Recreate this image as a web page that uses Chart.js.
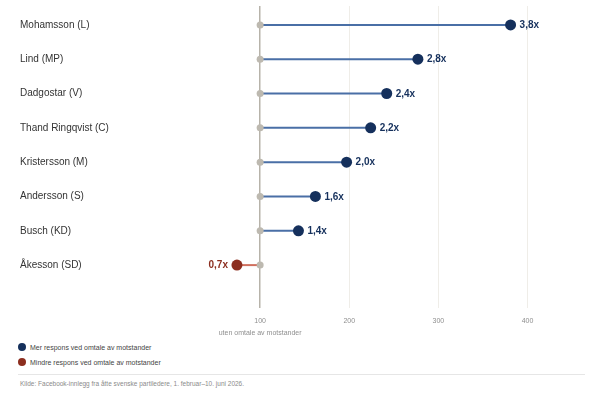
<!DOCTYPE html>
<html>
<head>
<meta charset="utf-8">
<script src="https://cdn.jsdelivr.net/npm/chart.js@4"></script>
<style>
  html, body { margin: 0; padding: 0; background: #fff; }
  body { width: 605px; height: 403px; position: relative; overflow: hidden; font-family: "Liberation Sans", Arial, sans-serif; }
  #wrap { position: absolute; left: 0; top: 0; width: 605px; height: 340px; }
  .leg { position: absolute; left: 18px; font-size: 7px; color: #444; line-height: 10px; }
  .leg i { display: inline-block; width: 8px; height: 8px; border-radius: 50%; vertical-align: middle; margin-right: 4px; position: relative; top: -1px; }
  #rule { position: absolute; left: 18px; width: 567px; top: 374px; height: 0; border-top: 1px solid #e6e6e6; }
  #src { position: absolute; left: 20px; top: 380px; font-size: 6.5px; color: #8a8a8a; }
</style>
</head>
<body>
<div id="wrap"><canvas id="c"></canvas></div>
<div class="leg" style="top:343px"><i style="background:#15305c"></i>Mer respons ved omtale av motstander</div>
<div class="leg" style="top:358px"><i style="background:#8c2e1f"></i>Mindre respons ved omtale av motstander</div>
<div id="rule"></div>
<div id="src">Kilde: Facebook-innlegg fra åtte svenske partiledere, 1. februar–10. juni 2026.</div>
<script>
const names = ["Mohamsson (L)", "Lind (MP)", "Dadgostar (V)", "Thand Ringqvist (C)", "Kristersson (M)", "Andersson (S)", "Busch (KD)", "Åkesson (SD)"];
const values = [381, 277, 242, 224, 197, 162, 143, 74];
const baseline = 100;
const xTicks = [100, 200, 300, 400];
const baselineNote = "uten omtale av motstander";

const NAVY = "#15305c", BLUE_LINE = "#4a6fa6", RED = "#8c2e1f", RED_LINE = "#d0705f", GRAY = "#bdb9b0";
const FONT = "'Liberation Sans', Arial, sans-serif";

const lineSets = names.map((n, i) => ({
  type: 'line',
  data: [{x: baseline, y: i}, {x: values[i], y: i}],
  borderColor: values[i] >= baseline ? BLUE_LINE : RED_LINE,
  borderWidth: 2,
  pointRadius: 0,
  showLine: true,
  order: 3
}));

const startSet = {
  data: names.map((n, i) => ({x: baseline, y: i})),
  pointRadius: 3.5,
  pointBackgroundColor: GRAY,
  pointBorderWidth: 0,
  order: 1
};
const endSet = {
  data: names.map((n, i) => ({x: values[i], y: i})),
  pointRadius: 5.5,
  pointBackgroundColor: values.map(v => v >= baseline ? NAVY : RED),
  pointBorderWidth: 0,
  order: 0
};

const valueLabels = {
  id: 'valueLabels',
  afterDatasetsDraw(chart) {
    const meta = chart.getDatasetMeta(chart.data.datasets.length - 1);
    const ctx = chart.ctx;
    ctx.save();
    ctx.font = "bold 10px " + FONT;
    ctx.textBaseline = 'middle';
    meta.data.forEach((pt, i) => {
      const v = values[i];
      const txt = (v / 100).toFixed(1).replace('.', ',') + 'x';
      if (v >= baseline) {
        ctx.fillStyle = NAVY; ctx.textAlign = 'left';
        ctx.fillText(txt, pt.x + 9, pt.y + 0.5);
      } else {
        ctx.fillStyle = RED; ctx.textAlign = 'right';
        ctx.fillText(txt, pt.x - 9, pt.y + 0.5);
      }
    });
    ctx.restore();
  }
};

new Chart(document.getElementById('c'), {
  type: 'scatter',
  data: { datasets: [...lineSets, startSet, endSet] },
  options: {
    responsive: true,
    maintainAspectRatio: false,
    animation: false,
    layout: { padding: { left: 20, right: 24, top: 5, bottom: 0 } },
    plugins: { legend: { display: false }, tooltip: { enabled: false } },
    scales: {
      x: {
        type: 'linear', min: 0, max: 460,
        border: { display: false },
        afterBuildTicks(scale) { scale.ticks = xTicks.map(v => ({value: v})); },
        afterFit(scale) { scale.height = 32; },
        grid: {
          drawTicks: false,
          color: c => c.tick && c.tick.value === baseline ? '#b7b3aa' : '#efede8',
          lineWidth: c => c.tick && c.tick.value === baseline ? 1.5 : 1
        },
        ticks: {
          padding: 7,
          color: '#8f8f8f',
          font: { family: FONT, size: 7, lineHeight: 1.75 },
          callback: v => v === baseline ? [String(v), baselineNote] : String(v)
        }
      },
      y: {
        type: 'linear', reverse: true, min: -0.55, max: 8.25,
        border: { display: false },
        grid: { display: false, drawTicks: false },
        afterBuildTicks(scale) { scale.ticks = names.map((n, i) => ({value: i})); },
        afterFit(scale) { scale.width = 151; },
        ticks: {
          crossAlign: 'far',
          padding: 0,
          color: '#333',
          font: { family: FONT, size: 10 },
          callback: v => names[v]
        }
      }
    }
  },
  plugins: [valueLabels]
});
</script>
</body>
</html>
